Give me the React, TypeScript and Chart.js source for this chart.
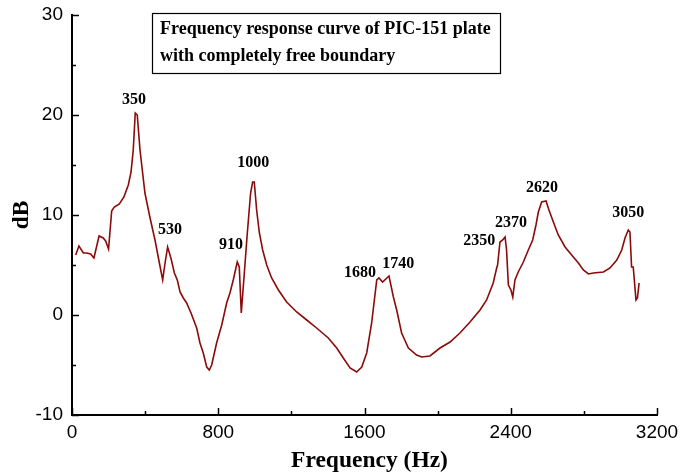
import React, { useEffect, useRef } from "react";
import { Chart, registerables } from "chart.js";

Chart.register(...registerables);

const freqHz = [
  20, 38, 62, 80, 102, 120, 148, 171, 184, 200, 217, 231, 259, 284, 308, 323, 335, 346, 357, 372,
  399, 427, 454, 478, 496, 509, 523, 541, 560, 576, 591, 609, 627, 651, 682, 700, 718, 737, 751, 764,
  791, 819, 846, 864, 882, 904, 915, 926, 941, 959, 977, 988, 997, 1010, 1025, 1043, 1065, 1092, 1129, 1174,
  1229, 1284, 1338, 1402, 1448, 1484, 1521, 1557, 1585, 1612, 1639, 1667, 1679, 1699, 1734, 1758, 1776, 1803, 1840, 1885,
  1913, 1958, 2013, 2068, 2122, 2177, 2232, 2268, 2304, 2323, 2328, 2341, 2356, 2369, 2377, 2387, 2401, 2411, 2423, 2441,
  2469, 2496, 2520, 2538, 2551, 2569, 2593, 2609, 2633, 2660, 2697, 2733, 2770, 2797, 2825, 2852, 2907, 2943, 2980, 3007,
  3025, 3043, 3052, 3061, 3070, 3085, 3093, 3102,
];
const responseDb = [
  6.0, 6.9, 6.2, 6.2, 6.1, 5.7, 7.9, 7.7, 7.4, 6.6, 10.4, 10.8, 11.1, 11.8, 13.0, 14.3, 16.5, 20.2, 20.0, 16.5,
  12.2, 9.7, 7.5, 5.2, 3.5, 5.2, 6.8, 5.7, 4.2, 3.5, 2.3, 1.7, 1.2, 0.2, -1.3, -2.8, -3.8, -5.2, -5.5, -5.0,
  -2.8, -1.0, 1.2, 2.2, 3.5, 5.3, 4.8, 0.2, 3.8, 8.2, 12.2, 13.3, 13.3, 10.5, 8.2, 6.5, 5.0, 3.7, 2.5, 1.3,
  0.3, -0.5, -1.3, -2.3, -3.3, -4.3, -5.3, -5.7, -5.2, -3.8, -0.8, 3.5, 3.7, 3.3, 3.9, 1.8, 0.5, -1.8, -3.3, -4.0,
  -4.2, -4.1, -3.3, -2.7, -1.8, -0.7, 0.5, 1.5, 3.2, 4.7, 5.0, 7.3, 7.5, 7.8, 6.5, 3.0, 2.5, 1.8, 3.5, 4.3,
  5.3, 6.5, 7.5, 9.0, 10.3, 11.3, 11.4, 10.5, 9.3, 8.0, 6.8, 6.0, 5.2, 4.5, 4.1, 4.2, 4.3, 4.7, 5.5, 6.5,
  7.7, 8.5, 8.3, 4.8, 4.8, 1.5, 1.7, 3.2,
];

const peakLabels = ["350", "530", "910", "1000", "1680", "1740", "2350", "2370", "2620", "3050"];
const peakLabelFreq = [339, 536, 870, 992, 1575, 1785, 2228, 2401, 2571, 3043];
const peakLabelDb = [21.5, 8.5, 7.0, 15.2, 4.2, 5.1, 7.4, 9.2, 12.7, 10.2];

const xMajorTicks = [0, 800, 1600, 2400, 3200];
const xMinorTicks = [400, 1200, 2000, 2800];
const yMajorTicks = [-10, 0, 10, 20, 30];
const yMinorTicks = [-5, 5, 15, 25];

const titleLines = ["Frequency response curve of PIC-151 plate", "with completely free boundary"];
const xTitle = "Frequency (Hz)";
const yTitle = "dB";

const SERIF = "'Liberation Serif', 'Times New Roman', serif";
const SANS = "'Liberation Sans', Arial, sans-serif";

const decorPlugin = {
  id: "decor",
  afterDraw(chart: any) {
    const ctx = chart.ctx;
    const xs = chart.scales.x;
    const ys = chart.scales.y;
    const area = chart.chartArea;
    ctx.save();
    // inward ticks
    ctx.strokeStyle = "#000";
    ctx.lineWidth = 1.5;
    ctx.beginPath();
    xMajorTicks.forEach((v) => {
      const px = Math.round(xs.getPixelForValue(v)) + 0.5;
      ctx.moveTo(px, area.bottom);
      ctx.lineTo(px, area.bottom - 7);
    });
    xMinorTicks.forEach((v) => {
      const px = Math.round(xs.getPixelForValue(v)) + 0.5;
      ctx.moveTo(px, area.bottom);
      ctx.lineTo(px, area.bottom - 4);
    });
    yMajorTicks.forEach((v) => {
      const py = Math.round(ys.getPixelForValue(v)) + 0.5;
      ctx.moveTo(area.left, py);
      ctx.lineTo(area.left + 7, py);
    });
    yMinorTicks.forEach((v) => {
      const py = Math.round(ys.getPixelForValue(v)) + 0.5;
      ctx.moveTo(area.left, py);
      ctx.lineTo(area.left + 4, py);
    });
    ctx.stroke();

    // tick labels
    ctx.fillStyle = "#000";
    ctx.font = `19px ${SANS}`;
    ctx.textAlign = "center";
    ctx.textBaseline = "top";
    xMajorTicks.forEach((v) => {
      ctx.fillText(String(v), xs.getPixelForValue(v), area.bottom + 8);
    });
    ctx.textAlign = "right";
    ctx.textBaseline = "middle";
    yMajorTicks.forEach((v) => {
      ctx.fillText(String(v), area.left - 9, ys.getPixelForValue(v));
    });

    // peak labels
    ctx.font = `bold 16px ${SERIF}`;
    ctx.textAlign = "center";
    ctx.textBaseline = "middle";
    peakLabels.forEach((t, i) => {
      ctx.fillText(t, xs.getPixelForValue(peakLabelFreq[i]), ys.getPixelForValue(peakLabelDb[i]));
    });

    // axis titles
    ctx.font = `bold 23.5px ${SERIF}`;
    ctx.fillText(xTitle, (area.left + area.right) / 2 + 5, area.bottom + 46);
    ctx.save();
    ctx.translate(area.left - 50, (area.top + area.bottom) / 2);
    ctx.rotate(-Math.PI / 2);
    ctx.fillText(yTitle, 0, 0);
    ctx.restore();

    // title box
    const bx = 152;
    const by = 13;
    const bw = 348;
    const bh = 60;
    ctx.fillStyle = "#fff";
    ctx.fillRect(bx, by, bw, bh);
    ctx.lineWidth = 1.2;
    ctx.strokeStyle = "#000";
    ctx.strokeRect(bx + 0.5, by + 0.5, bw, bh);
    ctx.fillStyle = "#000";
    ctx.font = `bold 18px ${SERIF}`;
    ctx.textAlign = "left";
    ctx.fillText(titleLines[0], bx + 8, by + 16);
    ctx.fillText(titleLines[1], bx + 8, by + 43);
    ctx.restore();
  },
};

export default function App() {
  const ref = useRef<HTMLCanvasElement | null>(null);
  useEffect(() => {
    document.body.style.margin = "0";
    const canvas = ref.current;
    if (!canvas) return;
    const chart = new Chart(canvas, {
      type: "line",
      data: {
        datasets: [
          {
            data: freqHz.map((f, i) => ({ x: f, y: responseDb[i] })),
            borderColor: "#8b0a0a",
            borderWidth: 1.6,
            pointRadius: 0,
            tension: 0,
            fill: false,
          },
        ],
      },
      options: {
        responsive: false,
        animation: false,
        layout: { padding: { left: 0, right: 25, top: 15, bottom: 0 } },
        plugins: { legend: { display: false }, tooltip: { enabled: false } },
        scales: {
          x: {
            type: "linear",
            min: 0,
            max: 3200,
            afterFit: (s: any) => {
              s.height = 61;
            },
            afterBuildTicks: (s: any) => {
              s.ticks = xMajorTicks.map((v) => ({ value: v }));
            },
            grid: { drawOnChartArea: false, drawTicks: false },
            border: { display: true, color: "#000", width: 2 },
            ticks: { display: false },
          },
          y: {
            type: "linear",
            min: -10,
            max: 30,
            afterFit: (s: any) => {
              s.width = 72;
            },
            afterBuildTicks: (s: any) => {
              s.ticks = yMajorTicks.map((v) => ({ value: v }));
            },
            grid: { drawOnChartArea: false, drawTicks: false },
            border: { display: true, color: "#000", width: 2 },
            ticks: { display: false },
          },
        },
      },
      plugins: [decorPlugin],
    });
    return () => chart.destroy();
  }, []);
  return <canvas ref={ref} width={682} height={476} style={{ display: "block" }} />;
}
